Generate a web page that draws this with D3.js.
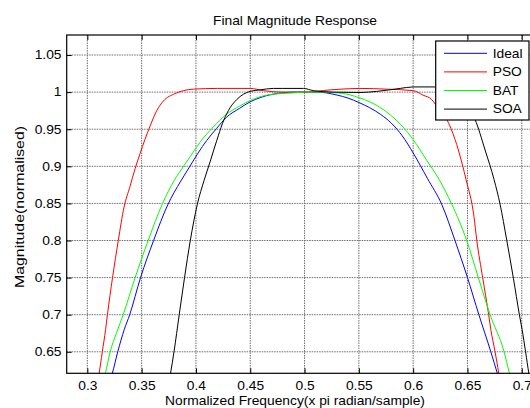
<!DOCTYPE html>
<html>

<head>
    <meta charset="utf-8" />
    <title>Final Magnitude Response</title>
    <script type="text/javascript" src="https://cdn.jsdelivr.net/npm/d3@7/dist/d3.min.js"></script>
    <style>
        body { margin: 0; background: #fff; }
        text { font-family: "Liberation Sans", Arial, sans-serif; font-size: 12px; fill: #000; }
    </style>
</head>

<body>
    <script type="text/javascript">
        // tick positions and their labels
        const xTicks = [0.3, 0.35, 0.4, 0.45, 0.5, 0.55, 0.6, 0.65, 0.7];
        const xTickLabels = ["0.3", "0.35", "0.4", "0.45", "0.5", "0.55", "0.6", "0.65", "0.7"];
        const yTicks = [0.65, 0.7, 0.75, 0.8, 0.85, 0.9, 0.95, 1, 1.05];
        const yTickLabels = ["0.65", "0.7", "0.75", "0.8", "0.85", "0.9", "0.95", "1", "1.05"];

        const seriesNames = ["Ideal", "PSO", "BAT", "SOA"];
        const seriesColors = ["#0000ff", "#ff0000", "#00ff00", "#000000"];

        // values, frequency (x pi rad/sample) and magnitude
        const idealFreq = [0.318, 0.323, 0.328, 0.334, 0.339, 0.349, 0.361, 0.374, 0.386, 0.394, 0.402, 0.410, 0.419, 0.428, 0.440, 0.450, 0.460, 0.470, 0.480, 0.490, 0.500, 0.510, 0.520, 0.530, 0.540, 0.550, 0.560, 0.570, 0.580, 0.590, 0.600, 0.613, 0.6265, 0.6385, 0.650, 0.6605, 0.6715, 0.6775, 0.682];
        const idealMag = [0.600, 0.621, 0.650, 0.680, 0.700, 0.750, 0.800, 0.848, 0.880, 0.899, 0.918, 0.935, 0.951, 0.966, 0.978, 0.987, 0.993, 0.997, 0.999, 1.000, 1.000, 1.000, 0.999, 0.996, 0.992, 0.986, 0.979, 0.970, 0.958, 0.941, 0.918, 0.884, 0.848, 0.800, 0.750, 0.700, 0.650, 0.621, 0.600];

        const psoFreq = [0.308, 0.3108, 0.3138, 0.3168, 0.3185, 0.3232, 0.3285, 0.3338, 0.3393, 0.344, 0.3485, 0.353, 0.3577, 0.3639, 0.370, 0.3808, 0.3884, 0.3976, 0.420, 0.450, 0.462, 0.480, 0.500, 0.5235, 0.551, 0.576, 0.600, 0.609, 0.617, 0.6217, 0.631, 0.6386, 0.6416, 0.6487, 0.656, 0.6586, 0.664, 0.6695, 0.6715, 0.6754, 0.6788, 0.681];
        const psoMag = [0.600, 0.621, 0.650, 0.680, 0.700, 0.750, 0.800, 0.845, 0.873, 0.897, 0.917, 0.936, 0.954, 0.975, 0.988, 0.998, 1.002, 1.004, 1.005, 1.005, 1.002, 1.000, 1.000, 1.003, 1.005, 1.004, 1.002, 0.996, 0.990, 0.981, 0.963, 0.936, 0.922, 0.882, 0.832, 0.800, 0.750, 0.700, 0.680, 0.650, 0.621, 0.600];

        const batFreq = [0.312, 0.3166, 0.321, 0.327, 0.333, 0.344, 0.356, 0.369, 0.380, 0.389, 0.397, 0.404, 0.416, 0.428, 0.440, 0.452, 0.465, 0.478, 0.490, 0.500, 0.510, 0.520, 0.530, 0.540, 0.551, 0.560, 0.570, 0.580, 0.590, 0.600, 0.6125, 0.624, 0.6355, 0.6493, 0.660, 0.6708, 0.6837, 0.6886, 0.692];
        const batMag = [0.600, 0.621, 0.650, 0.676, 0.700, 0.750, 0.800, 0.849, 0.881, 0.901, 0.918, 0.933, 0.953, 0.970, 0.981, 0.990, 0.996, 0.998, 0.999, 1.000, 1.000, 1.000, 0.999, 0.997, 0.992, 0.987, 0.979, 0.968, 0.954, 0.936, 0.908, 0.882, 0.849, 0.800, 0.750, 0.700, 0.650, 0.621, 0.600];

        const soaFreq = [0.374, 0.3766, 0.3798, 0.3846, 0.3895, 0.3948, 0.4013, 0.4075, 0.413, 0.4192, 0.4245, 0.4298, 0.4376, 0.4498, 0.459, 0.4713, 0.480, 0.499, 0.508, 0.526, 0.551, 0.5665, 0.588, 0.600, 0.620, 0.630, 0.640, 0.648, 0.657, 0.6662, 0.6745, 0.680, 0.6862, 0.6923, 0.6978, 0.7003, 0.7035, 0.7065, 0.709];
        const soaMag = [0.600, 0.621, 0.650, 0.700, 0.750, 0.800, 0.849, 0.881, 0.906, 0.935, 0.958, 0.975, 0.990, 1.001, 1.003, 1.005, 1.005, 1.005, 1.002, 1.000, 0.9995, 1.001, 1.005, 1.007, 1.007, 1.004, 0.995, 0.983, 0.963, 0.922, 0.882, 0.849, 0.800, 0.749, 0.700, 0.680, 0.650, 0.621, 0.600];

        const seriesFreq = [idealFreq, psoFreq, batFreq, soaFreq];
        const seriesMag = [idealMag, psoMag, batMag, soaMag];

        const width = 530,
            height = 408,
            stretch = 1.15, // glyphs in the reference are a little wide
            plot = { left: 66.7, right: 543.5, top: 35, bottom: 373.3 };

        const x = d3.scaleLinear()
            .domain([0.281, 0.72])
            .range([plot.left, plot.right]);

        const y = d3.scaleLinear()
            .domain([0.621, 1.077])
            .range([plot.bottom, plot.top]);

        const svg = d3.select("body").append("svg")
            .attr("width", width)
            .attr("height", height);

        svg.append("defs").append("clipPath")
            .attr("id", "plot-clip")
            .append("rect")
            .attr("x", plot.left)
            .attr("y", plot.top)
            .attr("width", plot.right - plot.left)
            .attr("height", plot.bottom - plot.top);

        // dotted grid
        const gridG = svg.append("g").attr("class", "grid");
        gridG.selectAll("line.vgrid")
            .data(xTicks)
            .enter().append("line")
            .attr("class", "vgrid")
            .attr("x1", d => x(d)).attr("x2", d => x(d))
            .attr("y1", plot.top).attr("y2", plot.bottom);
        gridG.selectAll("line.hgrid")
            .data(yTicks)
            .enter().append("line")
            .attr("class", "hgrid")
            .attr("x1", plot.left).attr("x2", plot.right)
            .attr("y1", d => y(d)).attr("y2", d => y(d));
        gridG.selectAll("line")
            .attr("stroke", "#6e6e6e")
            .attr("stroke-width", 1)
            .attr("stroke-dasharray", "1.5,1");

        // response curves
        const line = d3.line()
            .x(d => x(d[0]))
            .y(d => y(d[1]))
            .curve(d3.curveMonotoneX);

        const curvesG = svg.append("g")
            .attr("clip-path", "url(#plot-clip)");

        seriesNames.forEach((name, i) => {
            const pts = seriesFreq[i].map((f, j) => [f, seriesMag[i][j]]);
            curvesG.append("path")
                .datum(pts)
                .attr("fill", "none")
                .attr("stroke", seriesColors[i])
                .attr("stroke-width", 1)
                .attr("d", line);
        });

        // axes
        const fmtX = (d, i) => xTickLabels[i];
        const fmtY = (d, i) => yTickLabels[i];

        svg.append("g")
            .attr("transform", `translate(0,${plot.bottom})`)
            .call(d3.axisBottom(x).tickValues(xTicks).tickFormat(fmtX)
                .tickSizeInner(-5).tickSizeOuter(0).tickPadding(8));

        svg.append("g")
            .attr("transform", `translate(0,${plot.top})`)
            .call(d3.axisTop(x).tickValues(xTicks).tickFormat("")
                .tickSizeInner(-5).tickSizeOuter(0));

        svg.append("g")
            .attr("transform", `translate(${plot.left},0)`)
            .call(d3.axisLeft(y).tickValues(yTicks).tickFormat(fmtY)
                .tickSizeInner(-5).tickSizeOuter(0).tickPadding(4.5));

        svg.selectAll(".domain").remove();
        svg.selectAll(".tick line").attr("stroke", "#000");
        svg.selectAll(".tick text")
            .attr("font-family", null)
            .attr("font-size", null)
            .attr("transform", `scale(${stretch},1)`);

        // frame
        svg.append("rect")
            .attr("x", plot.left)
            .attr("y", plot.top)
            .attr("width", plot.right - plot.left)
            .attr("height", plot.bottom - plot.top)
            .attr("fill", "none")
            .attr("stroke", "#000")
            .attr("stroke-width", 1.2);

        // labels
        svg.append("g")
            .attr("transform", "translate(295,25)")
            .append("text")
            .attr("text-anchor", "middle")
            .attr("transform", `scale(${stretch},1)`)
            .text("Final Magnitude Response");

        svg.append("g")
            .attr("transform", "translate(295,405)")
            .append("text")
            .attr("text-anchor", "middle")
            .attr("transform", `scale(${stretch},1)`)
            .text("Normalized Frequency(x pi radian/sample)");

        svg.append("g")
            .attr("transform", "translate(24,207) rotate(-90)")
            .append("text")
            .attr("text-anchor", "middle")
            .attr("transform", "scale(1.32,1)")
            .text("Magnitude(normalised)");

        // legend
        const legend = { x: 435.7, y: 41, w: 93.3, h: 79 };
        const legendG = svg.append("g")
            .attr("transform", `translate(${legend.x},${legend.y})`);

        legendG.append("rect")
            .attr("width", legend.w)
            .attr("height", legend.h)
            .attr("fill", "#fff")
            .attr("stroke", "#000")
            .attr("stroke-width", 1.2);

        const items = legendG.selectAll("g.item")
            .data(seriesNames)
            .enter().append("g")
            .attr("class", "item")
            .attr("transform", (d, i) => `translate(0,${12.3 + i * 18.6})`);

        items.append("line")
            .attr("x1", 8.3).attr("x2", 51.3)
            .attr("y1", 0).attr("y2", 0)
            .attr("stroke", (d, i) => seriesColors[i])
            .attr("stroke-width", 1);

        items.append("g")
            .attr("transform", "translate(57,4.3)")
            .append("text")
            .attr("transform", `scale(${stretch},1)`)
            .text(d => d);
    </script>
</body>

</html>
